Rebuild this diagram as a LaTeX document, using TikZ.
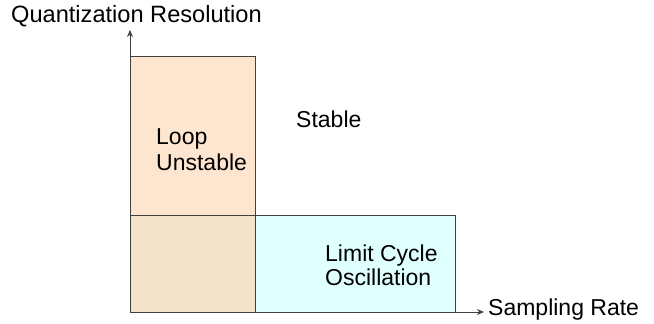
\documentclass[tikz,border=0pt]{standalone}
\usepackage{fontspec}
\setmainfont{Liberation Sans}
\usepackage{xcolor}
\usepackage{tikz}
\usetikzlibrary{arrows.meta}

\definecolor{unstablefill}{HTML}{FDE5CF}
\definecolor{overlapfill}{HTML}{F2E3CA}
\definecolor{limitfill}{HTML}{E0FFFF}
\definecolor{edgegray}{HTML}{404040}

\begin{document}
\begin{tikzpicture}[x=1pt, y=1pt]
		% Define styles with simple colors
		\tikzstyle{region} = [draw=edgegray, line width=0.8pt]
		\tikzstyle{label} = [inner sep=0pt, anchor=base west, align=left, font=\fontsize{23}{26}\selectfont]
		\tikzstyle{axis} = [line width=0.9pt, draw=edgegray, -{Stealth[length=7pt, width=6pt]}, shorten >=-2pt]

		\useasboundingbox (0,0) rectangle (654,324);

		% Regions
		\draw[region, fill=unstablefill] (130,109) rectangle (255,268);
		\draw[region, fill=overlapfill] (130,12) rectangle (255,109);
		\draw[region, fill=limitfill] (255,12) rectangle (455,109);

		% Axes
		\coordinate (origin) at (130,12);
		\coordinate (ytip) at (130,292);
		\coordinate (xtip) at (482,12);
		\draw[axis] (origin) -- (ytip);
		\draw[axis] (origin) -- (xtip);

		% Labels (base anchor sits on the last line)
		\node[label, font=\fontsize{23.6}{26}\selectfont] (yname) at (11,301) {Quantization Resolution};
		\node[label] (xname) at (488,8) {Sampling Rate};
		\node[label] (stable) at (296,196) {Stable};
		\node[label] (loop) at (156,153) {Loop\\Unstable};
		\node[label, font=\fontsize{23}{24}\selectfont] (limit) at (325,38) {Limit Cycle\\Oscillation};
	\end{tikzpicture}
\end{document}
